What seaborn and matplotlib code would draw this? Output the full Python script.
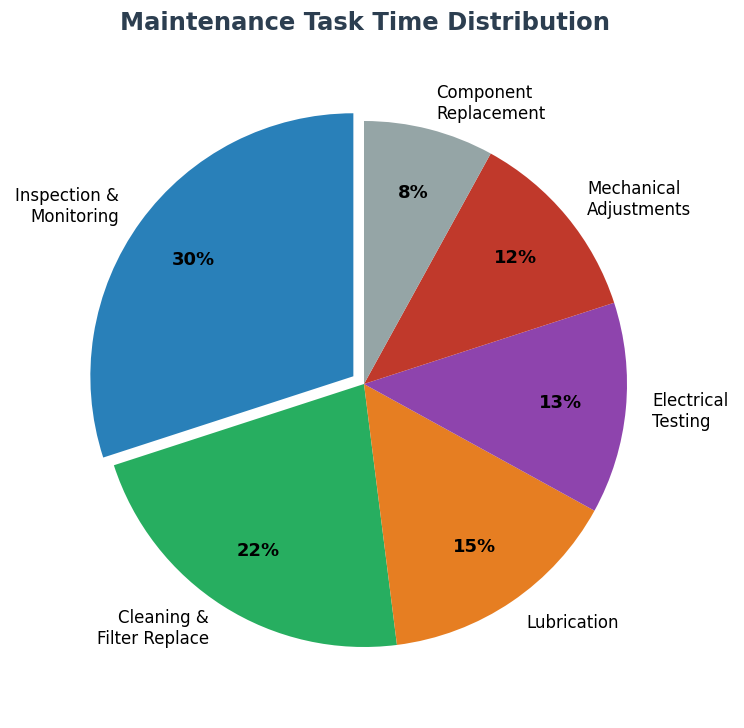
import matplotlib
matplotlib.use("Agg")
import matplotlib.pyplot as plt
import seaborn as sns

sns.set_theme(style="white")
plt.rcParams["font.family"] = ["DejaVu Sans"]

tasks = [
    "Inspection &\nMonitoring",
    "Cleaning &\nFilter Replace",
    "Lubrication",
    "Electrical\nTesting",
    "Mechanical\nAdjustments",
    "Component\nReplacement",
]
shares = [30, 22, 15, 13, 12, 8]
colors = ["#2980b9", "#27ae60", "#e67e22", "#8e44ad", "#c0392b", "#95a5a6"]
explode = [0.05, 0, 0, 0, 0, 0]

fig = plt.figure(figsize=(7.44, 7.28), dpi=100)
ax = fig.add_axes([0, 0, 1, 1])
wedges, texts, autotexts = ax.pie(
    shares,
    labels=tasks,
    colors=colors,
    explode=explode,
    startangle=90,
    autopct="%1.0f%%",
    pctdistance=0.75,
    labeldistance=1.1,
    wedgeprops={"linewidth": 0},
    textprops={"fontsize": 12, "color": "black"},
)
for t in autotexts:
    t.set_fontsize(13)
    t.set_fontweight("bold")

# pie radius ~263 px, centre near (364, 384) from top-left
r_px = 263.0
ax.set_xlim(-364 / r_px, (744 - 364) / r_px)
ax.set_ylim(-(728 - 384) / r_px, 384 / r_px)
ax.set_aspect("auto")
ax.axis("off")

fig.text(0.49, 0.968, "Maintenance Task Time Distribution", fontsize=17.5,
         fontweight="bold", color="#2c3e50", ha="center", va="center")
plt.savefig("out.png", dpi=100)
plt.close()
